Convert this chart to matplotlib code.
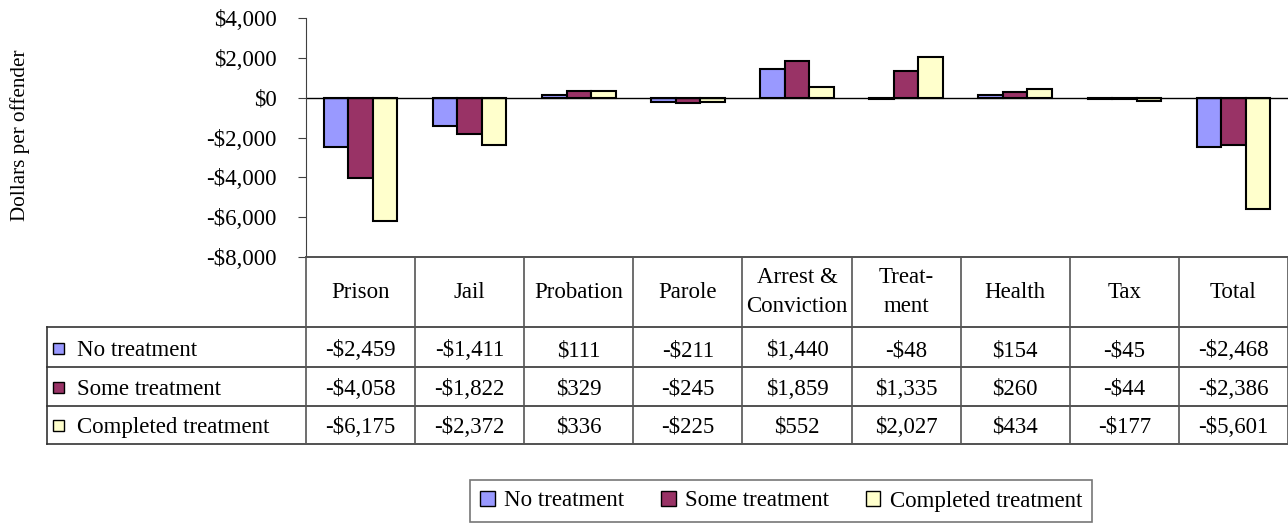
import numpy as np
import matplotlib
matplotlib.use("Agg")
from matplotlib import pyplot as plt
from matplotlib.patches import Patch, Rectangle
from matplotlib.lines import Line2D
import matplotlib.transforms as mtransforms

categories = ["Prison", "Jail", "Probation", "Parole", "Arrest &\nConviction",
              "Treat-\nment", "Health", "Tax", "Total"]
series_names = ["No treatment", "Some treatment", "Completed treatment"]
no_treatment = [-2459, -1411, 111, -211, 1440, -48, 154, -45, -2468]
some_treatment = [-4058, -1822, 329, -245, 1859, 1335, 260, -44, -2386]
completed_treatment = [-6175, -2372, 336, -225, 552, 2027, 434, -177, -5601]
series = [no_treatment, some_treatment, completed_treatment]
colors = ["#9999FF", "#993366", "#FFFFCC"]

W, H = 1288, 523
plt.rcParams['font.family'] = ['Liberation Serif', 'DejaVu Serif']
fs = 16.5
fig = plt.figure(figsize=(W / 100, H / 100), dpi=100)

def fx(px):
    return px / W

def fy(py):
    return 1 - py / H

def money(v):
    return ("-$" if v < 0 else "$") + format(abs(v), ",")

ax = fig.add_axes([fx(306), fy(257), fx(1288) - fx(306), fy(18) - fy(257)])
x = np.arange(len(categories))
bw = 0.225
for i, vals in enumerate(series):
    ax.bar(x + (i - 1) * bw, vals, bw, color=colors[i], edgecolor="black", linewidth=1.5)
ax.axhline(0, color="black", lw=1)
ax.set_xlim(-0.5, len(categories) - 0.5)
ax.set_ylim(-8000, 4000)
ticks = list(range(-8000, 4001, 2000))
ax.set_yticks(ticks)
ax.set_yticklabels([money(v) for v in ticks], fontsize=fs)
ax.tick_params(axis="y", direction="out", length=6, pad=15, color="#404040")
ax.set_xticks([])
for s in ["top", "right", "bottom"]:
    ax.spines[s].set_visible(False)
ax.spines["left"].set_color("#404040")

fig.text(fx(20), fy(135), "Dollars per offender", rotation=90, ha="center", va="center", fontsize=15.2)

# table below the chart
tr = mtransforms.blended_transform_factory(ax.transData, fig.transFigure)
lc = "#333333"
fig.add_artist(Line2D([fx(306), fx(1288)], [fy(257), fy(257)], color=lc, lw=1.2))
for py in [327, 367, 406, 444]:
    fig.add_artist(Line2D([fx(47), fx(1288)], [fy(py), fy(py)], color=lc, lw=1.2))
fig.add_artist(Line2D([fx(47), fx(47)], [fy(327), fy(444)], color=lc, lw=1.2))
for b in np.arange(-0.5, len(categories) + 0.5):
    fig.add_artist(Line2D([b, b], [fy(257), fy(444)], color="#555555", lw=1.2, transform=tr))

for i, c in enumerate(categories):
    fig.text(i, fy(292), c, ha="center", va="center", fontsize=fs, transform=tr, linespacing=1.45)

row_base = [356, 395, 433]
for r, (name, vals) in enumerate(zip(series_names, series)):
    fig.add_artist(Rectangle((fx(53), fy(row_base[r] - 2)), 11 / W, 11 / H,
                             facecolor=colors[r], edgecolor="black", lw=1))
    fig.text(fx(77), fy(row_base[r]), name, ha="left", va="baseline", fontsize=fs)
    for i, v in enumerate(vals):
        fig.text(i, fy(row_base[r]), money(v), ha="center", va="baseline", fontsize=fs, transform=tr)

handles = [Patch(facecolor=colors[i], edgecolor="black", label=series_names[i]) for i in range(3)]
leg = fig.legend(handles=handles, loc="center", bbox_to_anchor=(fx(781), fy(501)), ncol=3,
                 fontsize=fs, frameon=True, fancybox=False, edgecolor="#555555",
                 handlelength=0.65, handleheight=0.65, handletextpad=0.4, columnspacing=1.6,
                 borderpad=0.45)
leg.get_frame().set_linewidth(1.2)

fig.savefig("out.png", dpi=100)
